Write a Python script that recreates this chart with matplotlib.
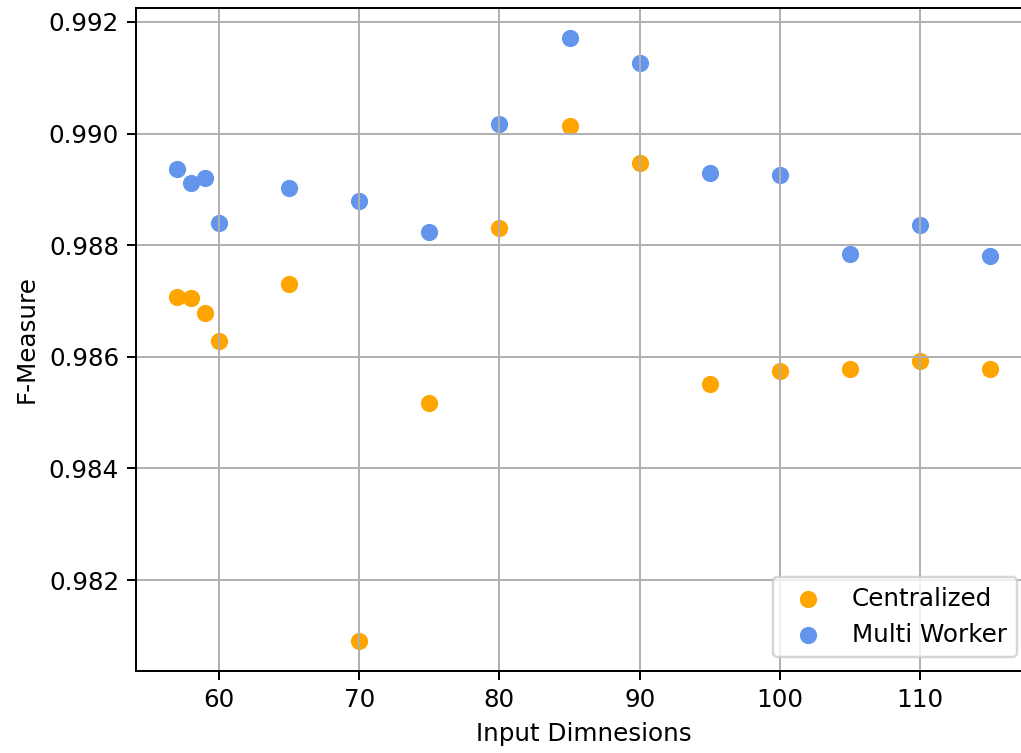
import numpy as np
import matplotlib
matplotlib.use("Agg")
import matplotlib.pyplot as plt

dims = [57, 58, 59, 60, 65, 70, 75, 80, 85, 90, 95, 100, 105, 110, 115]
centralized = [0.98708, 0.98705, 0.98679, 0.98628, 0.98730, 0.98091, 0.98518,
               0.98830, 0.99014, 0.98948, 0.98551, 0.98574, 0.98579, 0.98592, 0.98579]
multi_worker = [0.98937, 0.98912, 0.98921, 0.98840, 0.98903, 0.98880, 0.98824,
                0.99018, 0.99171, 0.99127, 0.98930, 0.98925, 0.98785, 0.98837, 0.98781]

DPI = 177
fig = plt.figure(figsize=(1021 / DPI, 753 / DPI), dpi=DPI)
# axes run slightly past the right edge (reference image is cropped there)
ax = fig.add_axes([136.3 / 1021, 82 / 753, 894.5 / 1021, 663 / 753])
ax.scatter(dims, centralized, color="orange", label="Centralized")
ax.scatter(dims, multi_worker, color="cornflowerblue", label="Multi Worker")

ax.set_xlabel("Input Dimnesions")
ax.set_ylabel("F-Measure")
ax.legend(loc="lower right", bbox_to_anchor=(1029 / 1021, 84 / 753),
          bbox_transform=fig.transFigure)
ax.grid(True)
fig.savefig("out.png", dpi=DPI)
